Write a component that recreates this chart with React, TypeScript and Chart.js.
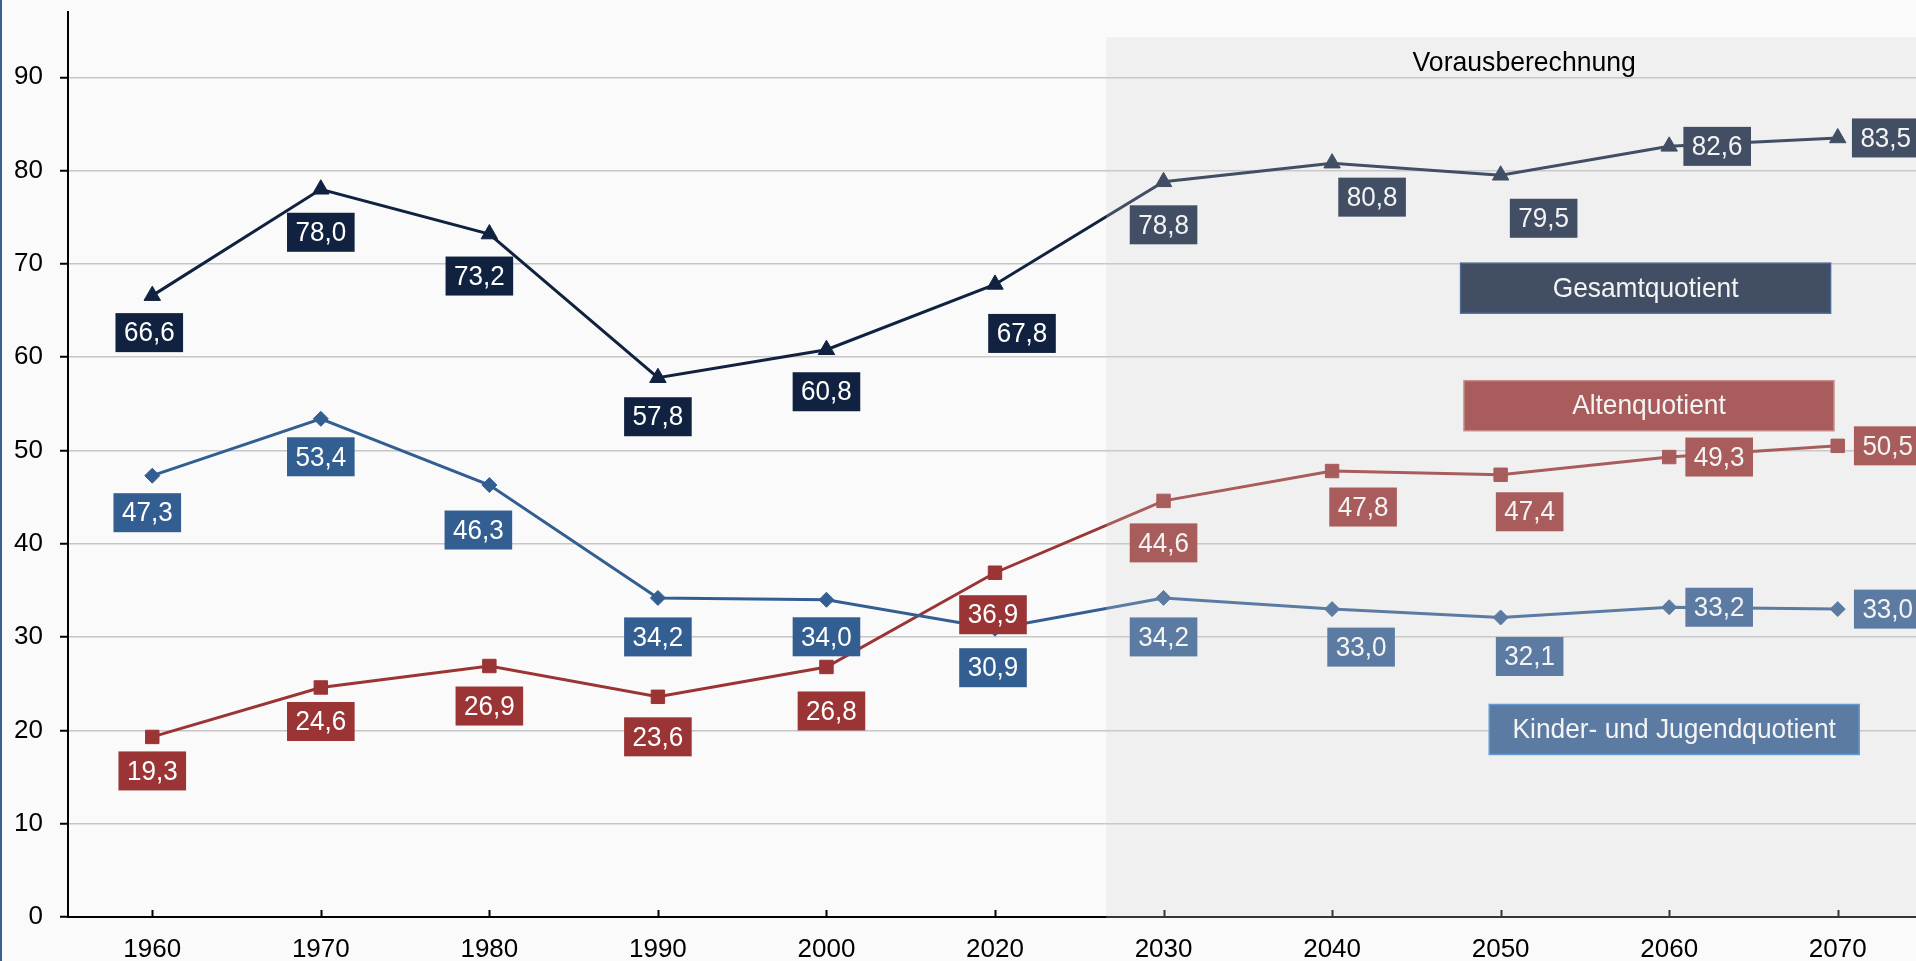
import React, { useEffect, useRef } from 'react';
import { Chart, registerables } from 'chart.js';

Chart.register(...registerables);

// ---------- data ----------
const years = ['1960', '1970', '1980', '1990', '2000', '2020', '2030', '2040', '2050', '2060', '2070'];
const gesamtquotient = [66.6, 78.0, 73.2, 57.8, 60.8, 67.8, 78.8, 80.8, 79.5, 82.6, 83.5];
const kinderJugendquotient = [47.3, 53.4, 46.3, 34.2, 34.0, 30.9, 34.2, 33.0, 32.1, 33.2, 33.0];
const altenquotient = [19.3, 24.6, 26.9, 23.6, 26.8, 36.9, 44.6, 47.8, 47.4, 49.3, 50.5];
const seriesNames = ['Gesamtquotient', 'Kinder- und Jugendquotient', 'Altenquotient'];
const projectionTitle = 'Vorausberechnung';
const yTickStep = 10;

// ---------- layout / style ----------
const FONT = '"Liberation Sans", Arial, Helvetica, sans-serif';
const COLORS = ['#10223f', '#335e92', '#9b3434'];
const BORDERS = ['#1e4682', '#3f89d9', '#c27575'];
const POINT_STYLES = ['triangle', 'rectRot', 'rect'];
const POINT_RADII = [9.5, 7.5, 9.5];
// label offsets (dx, dy) in px relative to each point
const labelOffsets = [
  [[-3, 37], [0, 43], [-10, 42], [0, 39], [0, 42], [27, 49], [0, 43], [40, 34], [43, 43], [48, 0], [48, 0]],
  [[-5, 37], [0, 38], [-11, 45], [0, 39], [0, 37], [-2, 39], [0, 39], [29, 38], [29, 39], [50, 0], [50, 0]],
  [[0, 34], [0, 34], [0, 40], [0, 40], [5, 44], [-2, 42], [0, 42], [31, 36], [29, 37], [50, 0], [50, 0]],
];
// legend boxes: [category-index center, value center]
const legendPos = [
  [8.86, 67.4],
  [9.03, 20.1],
  [8.88, 54.8],
];
const PROJ_START = 5.66; // category index where projection shading begins
const PROJ_TOP = 94.3; // value of shading top
const TITLE_POS = [8.14, 91.5];

const fmt = (v: number) => v.toFixed(1).replace('.', ',');

function drawText(ctx: CanvasRenderingContext2D, text: string, cx: number, cy: number, size: number, sx: number) {
  ctx.save();
  ctx.font = `${size}px ${FONT}`;
  ctx.textAlign = 'center';
  ctx.textBaseline = 'middle';
  ctx.translate(cx, cy);
  ctx.scale(sx, 1);
  ctx.fillText(text, 0, 0);
  ctx.restore();
}

const decorPlugin = {
  id: 'decor',
  beforeDatasetsDraw(chart: any) {
    const { ctx, chartArea } = chart;
    const x = chart.scales.x;
    ctx.save();
    ctx.strokeStyle = '#000';
    ctx.lineWidth = 2;
    years.forEach((_, i) => {
      const px = Math.round(x.getPixelForValue(i)) + 0.5;
      ctx.beginPath();
      ctx.moveTo(px, chartArea.bottom);
      ctx.lineTo(px, chartArea.bottom - 7);
      ctx.stroke();
    });
    ctx.restore();
  },
  afterDatasetsDraw(chart: any) {
    const { ctx, chartArea } = chart;
    const x = chart.scales.x;
    const y = chart.scales.y;
    ctx.save();
    ctx.font = `26px ${FONT}`;
    // data labels
    chart.data.datasets.forEach((ds: any, di: number) => {
      const meta = chart.getDatasetMeta(di);
      meta.data.forEach((pt: any, j: number) => {
        const [dx, dy] = labelOffsets[di][j];
        const cx = pt.x + dx;
        const cy = pt.y + dy;
        const text = fmt(ds.data[j]);
        ctx.font = `26px ${FONT}`;
        const w = ctx.measureText(text).width + 17;
        const h = 39;
        ctx.fillStyle = COLORS[di];
        ctx.fillRect(cx - w / 2, cy - h / 2, w, h);
        ctx.fillStyle = '#ffffff';
        drawText(ctx, text, cx, cy + 1, 28, 0.93);
      });
    });
    // legend boxes
    seriesNames.forEach((name, i) => {
      const cx = x.getPixelForValue(legendPos[i][0]);
      const cy = y.getPixelForValue(legendPos[i][1]);
      const w = 370;
      const h = 50;
      ctx.fillStyle = COLORS[i];
      ctx.fillRect(cx - w / 2, cy - h / 2, w, h);
      ctx.strokeStyle = BORDERS[i];
      ctx.lineWidth = 1.5;
      ctx.strokeRect(cx - w / 2, cy - h / 2, w, h);
      ctx.fillStyle = '#ffffff';
      drawText(ctx, name, cx, cy + 1, 28, 0.94);
    });
    // projection shading overlay
    const sx = x.getPixelForValue(PROJ_START);
    const sy = y.getPixelForValue(PROJ_TOP);
    ctx.fillStyle = 'rgba(210,210,210,0.25)';
    ctx.fillRect(sx, sy, chart.width - sx, chartArea.bottom + 1 - sy);
    // title
    ctx.fillStyle = '#000';
    drawText(ctx, projectionTitle, x.getPixelForValue(TITLE_POS[0]), y.getPixelForValue(TITLE_POS[1]), 28, 0.95);
    ctx.restore();
  },
};

export default function App() {
  const ref = useRef<HTMLCanvasElement | null>(null);

  useEffect(() => {
    document.body.style.margin = '0';
    document.body.style.background = '#fafafa';
    document.body.style.overflow = 'hidden';
    const canvas = ref.current!;
    const series = [gesamtquotient, kinderJugendquotient, altenquotient];
    const chart = new Chart(canvas, {
      type: 'line',
      data: {
        labels: years,
        datasets: series.map((d, i) => ({
          label: seriesNames[i],
          data: d,
          borderColor: COLORS[i],
          backgroundColor: COLORS[i],
          borderWidth: 3,
          pointStyle: POINT_STYLES[i] as any,
          pointRadius: POINT_RADII[i],
          pointBorderWidth: 1,
          pointBorderColor: COLORS[i],
          pointBackgroundColor: COLORS[i],
          tension: 0,
          fill: false,
        })),
      },
      options: {
        responsive: false,
        animation: false,
        devicePixelRatio: 1,
        layout: { autoPadding: false, padding: { top: 12, left: 0, right: 0, bottom: 0 } },
        plugins: {
          legend: { display: false },
          tooltip: { enabled: false },
        },
        scales: {
          x: {
            type: 'category',
            offset: true,
            grid: { display: false },
            border: { display: true, color: '#000', width: 2 },
            ticks: { color: '#000', font: { family: FONT, size: 26 }, padding: 9, maxRotation: 0, autoSkip: false },
            afterFit(scale: any) {
              scale.height = 44;
              scale.paddingLeft = 0;
              scale.paddingRight = 0;
            },
          },
          y: {
            min: 0,
            max: 97,
            grid: { color: '#c6c6c6', lineWidth: 1.5, drawTicks: true, tickLength: 8, tickColor: '#000', tickWidth: 2 },
            border: { display: true, color: '#000', width: 2 },
            ticks: {
              stepSize: yTickStep,
              includeBounds: false,
              color: '#000',
              font: { family: FONT, size: 26 },
              padding: 17,
            },
            afterFit(scale: any) {
              scale.width = 68;
              scale.paddingTop = 0;
              scale.paddingBottom = 0;
            },
          },
        },
      },
      plugins: [decorPlugin],
    });
    return () => chart.destroy();
  }, []);

  return (
    <div style={{ position: 'fixed', left: 0, top: 0, right: 0, bottom: 0, overflow: 'hidden', background: '#fafafa' }}>
      <canvas ref={ref} width={1922} height={961} style={{ display: 'block', width: 1922, height: 961 }} />
      <div style={{ position: 'absolute', left: 0, top: 0, width: 2, height: '100%', background: '#3b5f8f' }} />
    </div>
  );
}
